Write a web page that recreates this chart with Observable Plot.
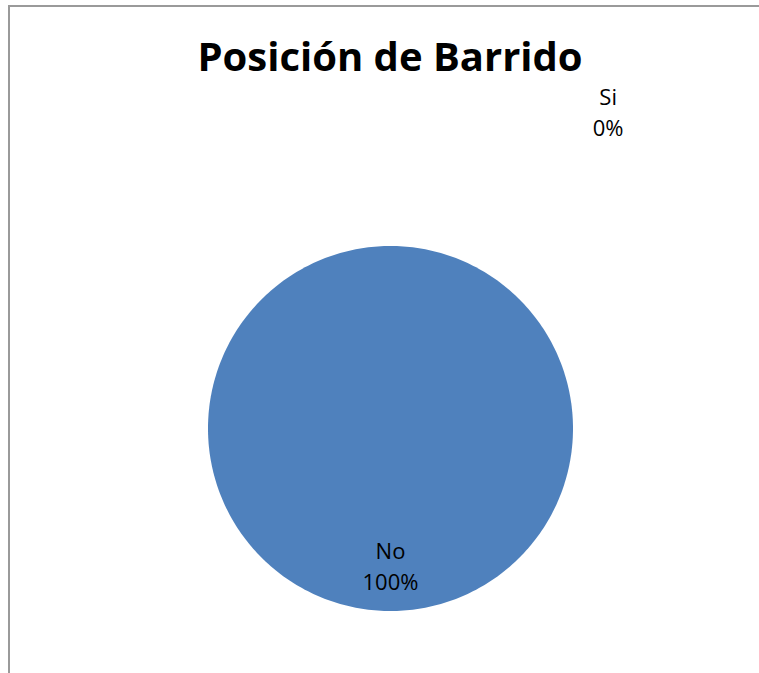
<!DOCTYPE html>
<html>
<head>
<meta charset="utf-8">
<script src="https://cdn.jsdelivr.net/npm/d3@7"></script>
<script src="https://cdn.jsdelivr.net/npm/@observablehq/plot@0.6"></script>
<style>
  html, body { margin: 0; padding: 0; background: #fff; }
  #frame { position: absolute; left: 8px; top: 5px; width: 760px; height: 680px;
           border-left: 2px solid #9a9a9a; border-top: 2px solid #9a9a9a; box-sizing: border-box; }
  #chart { position: absolute; left: 0; top: 0; }
</style>
</head>
<body>
<div id="frame"></div>
<div id="chart"></div>
<script>
const title = "Posición de Barrido";
const categories = ["Si", "No"];
const values = [0, 100];
const percentLabels = ["0%", "100%"];
const sliceColors = ["#C0504D", "#4F81BD"];
// label placement (angle in degrees clockwise from top, distance in radii)
const labelAngle = [34.6, 180];
const labelDist = [2.1, 0.76];

const total = d3.sum(values);
// build slice polygons, starting at top, clockwise
const polys = [];
let start = 0;
categories.forEach((c, i) => {
  const sweep = values[i] / total * 2 * Math.PI;
  if (sweep > 0) {
    const n = Math.max(2, Math.ceil(sweep / (Math.PI / 180)));
    if (sweep < 2 * Math.PI) polys.push({cat: c, x: 0, y: 0, k: -1});
    for (let j = 0; j <= n; j++) {
      const a = start + sweep * j / n;
      polys.push({cat: c, x: Math.sin(a), y: Math.cos(a), k: j});
    }
  }
  start += sweep;
});
const labels = categories.map((c, i) => {
  const a = labelAngle[i] * Math.PI / 180;
  return {cat: c, pct: percentLabels[i], x: labelDist[i] * Math.sin(a), y: labelDist[i] * Math.cos(a)};
});

const plot = Plot.plot({
  width: 759,
  height: 673,
  margin: 0,
  x: {domain: [-1, 1], range: [207.5, 572.5], axis: null},
  y: {domain: [-1, 1], range: [610.5, 245.5], axis: null},
  color: {domain: categories, range: sliceColors},
  style: {background: "transparent", fontFamily: "'Open Sans', sans-serif"},
  marks: [
    Plot.line(polys, {x: "x", y: "y", z: "cat", fill: "cat", stroke: "none", curve: "linear"}),
    Plot.text(labels, {x: "x", y: "y", text: "cat", dy: -15, fontSize: 22, fill: "#000", fontFamily: "'Open Sans', sans-serif"}),
    Plot.text(labels, {x: "x", y: "y", text: "pct", dy: 16, fontSize: 22, fill: "#000", fontFamily: "'Open Sans', sans-serif"}),
    Plot.text([title], {frameAnchor: "top", text: d => d, dx: 10, dy: 70, fontSize: 40, fontWeight: "bold", fill: "#000", fontFamily: "'Open Sans', sans-serif", lineAnchor: "bottom"})
  ]
});
document.getElementById("chart").appendChild(plot);
</script>
</body>
</html>
